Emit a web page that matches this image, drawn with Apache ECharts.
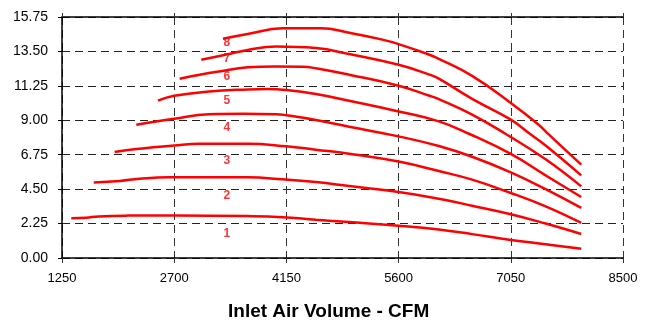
<!DOCTYPE html>
<html>
<head>
<meta charset="utf-8">
<script src="https://cdn.jsdelivr.net/npm/echarts@6/dist/echarts.min.js"></script>
<style>html,body{margin:0;padding:0;background:#fff}#c{width:647px;height:322px}</style>
</head>
<body>
<div id="c"></div>
<script>
const xTicks = [1250, 2700, 4150, 5600, 7050, 8500];
const yTicks = [0, 2.25, 4.5, 6.75, 9, 11.25, 13.5, 15.75];
const curve1 = [[1370,2.60],[1560,2.63],[1720,2.72],[2100,2.77],[2700,2.78],[3650,2.74],[4100,2.67],[4530,2.50],[4960,2.35],[5600,2.11],[6120,1.86],[6550,1.56],[7050,1.18],[7500,0.90],[7960,0.61]];
const curve2 = [[1660,4.94],[2000,5.04],[2250,5.18],[2620,5.28],[3650,5.27],[4100,5.14],[4530,4.96],[4960,4.70],[5600,4.31],[6120,3.87],[6550,3.42],[7050,2.86],[7500,2.25],[7960,1.57]];
const curve3 = [[1930,6.93],[2210,7.12],[2470,7.25],[2700,7.36],[3030,7.46],[3650,7.47],[4150,7.30],[4530,7.08],[4960,6.82],[5600,6.30],[6120,5.68],[6550,5.12],[7050,4.25],[7500,3.37],[7960,2.29]];
const curve4 = [[2210,8.71],[2700,9.10],[3150,9.39],[3600,9.42],[4020,9.40],[4150,9.33],[4530,9.02],[4960,8.58],[5600,7.95],[6120,7.32],[6550,6.62],[7050,5.60],[7500,4.50],[7960,3.27]];
const curve5 = [[2490,10.28],[2700,10.60],[3150,10.88],[3650,11.02],[3900,11.05],[4150,10.98],[4530,10.72],[4960,10.28],[5600,9.58],[6120,8.93],[6510,8.12],[7050,6.80],[7500,5.40],[7960,3.99]];
const curve6 = [[2770,11.72],[3030,11.98],[3280,12.19],[3650,12.46],[4000,12.52],[4360,12.50],[4530,12.40],[4960,11.98],[5600,11.26],[5990,10.62],[6120,10.38],[6550,9.37],[6980,8.12],[7500,6.45],[7960,4.68]];
const curve7 = [[3050,12.96],[3370,13.29],[3650,13.60],[4020,13.82],[4530,13.72],[4960,13.33],[5600,12.63],[5990,12.00],[6120,11.72],[6550,10.40],[7050,9.04],[7300,8.10],[7500,7.35],[7960,5.40]];
const curve8 = [[3330,14.33],[3650,14.64],[4100,15.01],[4600,15.02],[4960,14.72],[5390,14.27],[5600,13.98],[5990,13.30],[6120,13.02],[6550,11.90],[7050,10.13],[7410,8.71],[7540,8.08],[7960,6.10]];
const curveLabels = [[3380,1.59,'1'],[3380,4.09,'2'],[3380,6.38,'3'],[3380,8.53,'4'],[3380,10.28,'5'],[3380,11.83,'6'],[3380,13.02,'7'],[3380,14.05,'8']];
const xTitle = 'Inlet Air Volume - CFM';

const X0 = xTicks[0];
const XSTEP = xTicks[1] - xTicks[0];
const XMAX = xTicks[xTicks.length - 1] - X0;
const curves = [curve1, curve2, curve3, curve4, curve5, curve6, curve7, curve8];
const FONT = 'Liberation Sans, Arial, sans-serif';

const chart = echarts.init(document.getElementById('c'), null, {renderer: 'canvas'});
const series = curves.map(c => ({
  type: 'line',
  xAxisIndex: 0,
  data: c.map(p => [p[0] - X0, p[1]]),
  smooth: 0.45,
  showSymbol: false,
  symbol: 'none',
  silent: true,
  lineStyle: {color: '#ff0000', width: 2.5},
  z: 3
}));
series.push({
  type: 'scatter',
  xAxisIndex: 0,
  symbolSize: 0,
  silent: true,
  data: curveLabels.map(l => ({value: [l[0] - X0, l[1]], name: l[2]})),
  label: {show: true, position: 'inside', formatter: p => p.name, color: '#ff0000', fontWeight: 'bold', fontSize: 12, fontFamily: FONT},
  z: 4
});

chart.setOption({
  animation: false,
  backgroundColor: '#fff',
  title: {text: xTitle, left: 228, top: 302, padding: 0,
    textStyle: {fontFamily: FONT, fontWeight: 'bold', fontSize: 19, color: '#000'}},
  grid: {left: 62, right: 24, top: 17, bottom: 64, containLabel: false},
  xAxis: [{
    type: 'value', min: 0, max: XMAX, interval: XSTEP, position: 'bottom',
    axisLine: {show: true, onZero: false, lineStyle: {color: '#000', width: 1.5}},
    axisTick: {show: true, length: 5, lineStyle: {color: '#333'}},
    axisLabel: {formatter: v => String(v + X0), fontSize: 13, color: '#000', fontFamily: FONT, margin: 14},
    splitLine: {show: true, lineStyle: {color: '#333', width: 1, type: [8, 5]}}
  }, {
    type: 'value', min: 0, max: XMAX, interval: XSTEP, position: 'top',
    axisLine: {show: true, onZero: false, lineStyle: {color: '#000', width: 1.5}},
    axisTick: {show: true, length: 4, lineStyle: {color: '#333'}},
    axisLabel: {show: false},
    splitLine: {show: false}
  }],
  yAxis: {
    type: 'value', min: yTicks[0], max: yTicks[yTicks.length - 1], interval: yTicks[1] - yTicks[0],
    axisLine: {show: true, lineStyle: {color: '#000', width: 1.5}},
    axisTick: {show: true, length: 4, lineStyle: {color: '#000'}},
    axisLabel: {formatter: v => v.toFixed(2), fontSize: 14, color: '#000', fontFamily: FONT, margin: 14},
    splitLine: {show: true, lineStyle: {color: '#222', width: 1, type: [8, 5]}}
  },
  series: series
});
</script>
</body>
</html>
